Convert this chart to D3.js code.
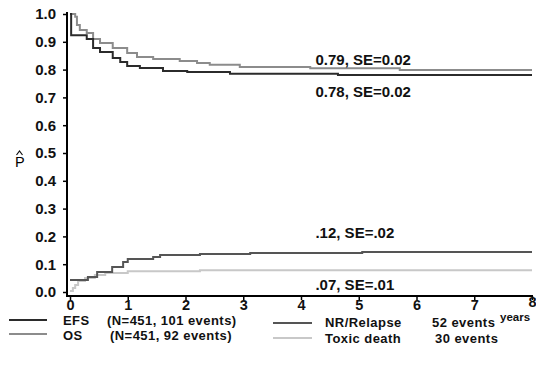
<!DOCTYPE html>
<html>
<head>
<meta charset="utf-8">
<script src="https://cdn.jsdelivr.net/npm/d3@7"></script>
<style>
  body { margin: 0; background: #fff; }
  svg { display: block; font-family: "Liberation Sans", Arial, sans-serif; }
  .tick text { font-weight: bold; }
</style>
</head>
<body>
<svg id="chart" width="536" height="372"></svg>
<script>
// step curves: [years, probability]
var efsData = [[0,1.0],[0.02,0.924],[0.29,0.91],[0.40,0.878],[0.52,0.863],[0.74,0.842],[0.87,0.827],
  [0.99,0.813],[1.21,0.806],[1.61,0.795],[2.03,0.791],[2.77,0.785],[4.64,0.781],[8,0.781]]
var osData = [[0,1.0],[0.09,0.99],[0.12,0.96],[0.17,0.942],[0.29,0.932],[0.40,0.91],[0.52,0.896],
  [0.74,0.878],[0.99,0.86],[1.16,0.845],[1.44,0.838],[1.9,0.831],[2.2,0.824],[2.42,0.817],
  [2.94,0.809],[4.16,0.805],[5.71,0.799],[8,0.799]]
var relapseData = [[0,0.043],[0.31,0.054],[0.47,0.072],[0.73,0.09],[0.92,0.108],[1.0,0.119],
  [1.44,0.126],[1.56,0.133],[2.25,0.137],[3.12,0.14],[5.06,0.144],[8,0.144]]
var toxicData = [[0,0.004],[0.05,0.014],[0.09,0.025],[0.14,0.04],[0.26,0.05],[0.43,0.061],
  [0.61,0.068],[1.0,0.075],[2.25,0.078],[8,0.078]]

var yTicks = [0,0.1,0.2,0.3,0.4,0.5,0.6,0.7,0.8,0.9,1.0]
var xTicks = [0,1,2,3,4,5,6,7,8]

// labels placed at (years, probability) of their baseline
var annotations = [
  {text: "0.79, SE=0.02", t: 4.25, v: 0.817},
  {text: "0.78, SE=0.02", t: 4.25, v: 0.702},
  {text: ".12, SE=.02", t: 4.25, v: 0.196},
  {text: ".07, SE=.01", t: 4.25, v: 0.008}
]

var legendLeft = [
  {name: "EFS", info: "(N=451, 101 events)", color: "#2b2b2b", infoX: 107},
  {name: "OS", info: "(N=451, 92 events)", color: "#8c8c8c", infoX: 110}
]
var legendRight = [
  {name: "NR/Relapse", info: "52 events", color: "#555555", infoX: 432},
  {name: "Toxic death", info: "30 events", color: "#c8c8c8", infoX: 435}
]

var svg = d3.select("#chart")

var x = d3.scaleLinear().domain([0, 8]).range([70, 532])
var y = d3.scaleLinear().domain([0, 1]).range([292, 14])

// axes
var yAxis = svg.append("g")
  .attr("transform", "translate(67,0)")
  .call(d3.axisLeft(y).tickValues(yTicks).tickFormat(d3.format(".1f")).tickSize(4).tickSizeOuter(0))
yAxis.select(".domain").attr("stroke-width", 2).attr("d", "M0,12V297")
yAxis.selectAll(".tick line").attr("stroke-width", 1.5)
yAxis.selectAll(".tick text").attr("font-size", 15).attr("x", -11).attr("fill", "#111")

var xAxis = svg.append("g")
  .attr("transform", "translate(0,296)")
  .call(d3.axisBottom(x).tickValues(xTicks).tickSize(4).tickSizeOuter(0))
xAxis.select(".domain").attr("stroke-width", 2).attr("d", "M66,0H533")
xAxis.selectAll(".tick line").attr("stroke-width", 1.5)
xAxis.selectAll(".tick text").attr("font-size", 14.5).attr("y", 4).attr("fill", "#111")
xAxis.selectAll(".tick text").filter(d => d == 8).attr("y", 1).attr("text-anchor", "end").attr("dx", 4)

svg.append("text")
  .attr("x", 500).attr("y", 321)
  .attr("font-size", 11.5).attr("font-weight", "bold").attr("fill", "#111")
  .text("years")

// P hat
svg.append("text").attr("x", 15).attr("y", 167).attr("font-size", 14.5).text("P")
svg.append("path").attr("d", "M16.5,155L19.5,151L22.5,155")
  .attr("fill", "none").attr("stroke", "#111").attr("stroke-width", 1.2)

// curves
var line = d3.line()
  .x(d => x(d[0]))
  .y(d => y(d[1]))
  .curve(d3.curveStepAfter)

var curves = [
  {data: toxicData, color: "#c8c8c8"},
  {data: relapseData, color: "#555555"},
  {data: osData, color: "#8c8c8c"},
  {data: efsData, color: "#2b2b2b"}
]
svg.selectAll(".curve")
  .data(curves)
  .enter()
  .append("path")
  .attr("class", "curve")
  .attr("d", d => line(d.data))
  .attr("fill", "none")
  .attr("stroke", d => d.color)
  .attr("stroke-width", 2)

svg.selectAll(".annot")
  .data(annotations)
  .enter()
  .append("text")
  .attr("class", "annot")
  .attr("x", d => x(d.t))
  .attr("y", d => y(d.v))
  .attr("font-size", 15)
  .attr("font-weight", "bold")
  .attr("fill", "#111")
  .text(d => d.text)

// legend
function drawLegend(items, lineX, textX, ys) {
  items.forEach(function(d, i) {
    svg.append("line")
      .attr("x1", lineX[0]).attr("x2", lineX[1])
      .attr("y1", ys[i][0]).attr("y2", ys[i][0])
      .attr("stroke", d.color).attr("stroke-width", 2)
    svg.append("text")
      .attr("x", textX).attr("y", ys[i][1])
      .attr("font-size", 13).attr("font-weight", "bold").attr("fill", "#111")
      .attr("letter-spacing", 0.45)
      .text(d.name)
    svg.append("text")
      .attr("x", d.infoX).attr("y", ys[i][1])
      .attr("font-size", 13).attr("font-weight", "bold").attr("fill", "#111")
      .attr("letter-spacing", 0.45)
      .text(d.info)
  })
}
drawLegend(legendLeft, [9, 47], 63, [[320, 325], [334, 340]])
drawLegend(legendRight, [273, 312], 325, [[323, 327], [338, 343]])
</script>
</body>
</html>
